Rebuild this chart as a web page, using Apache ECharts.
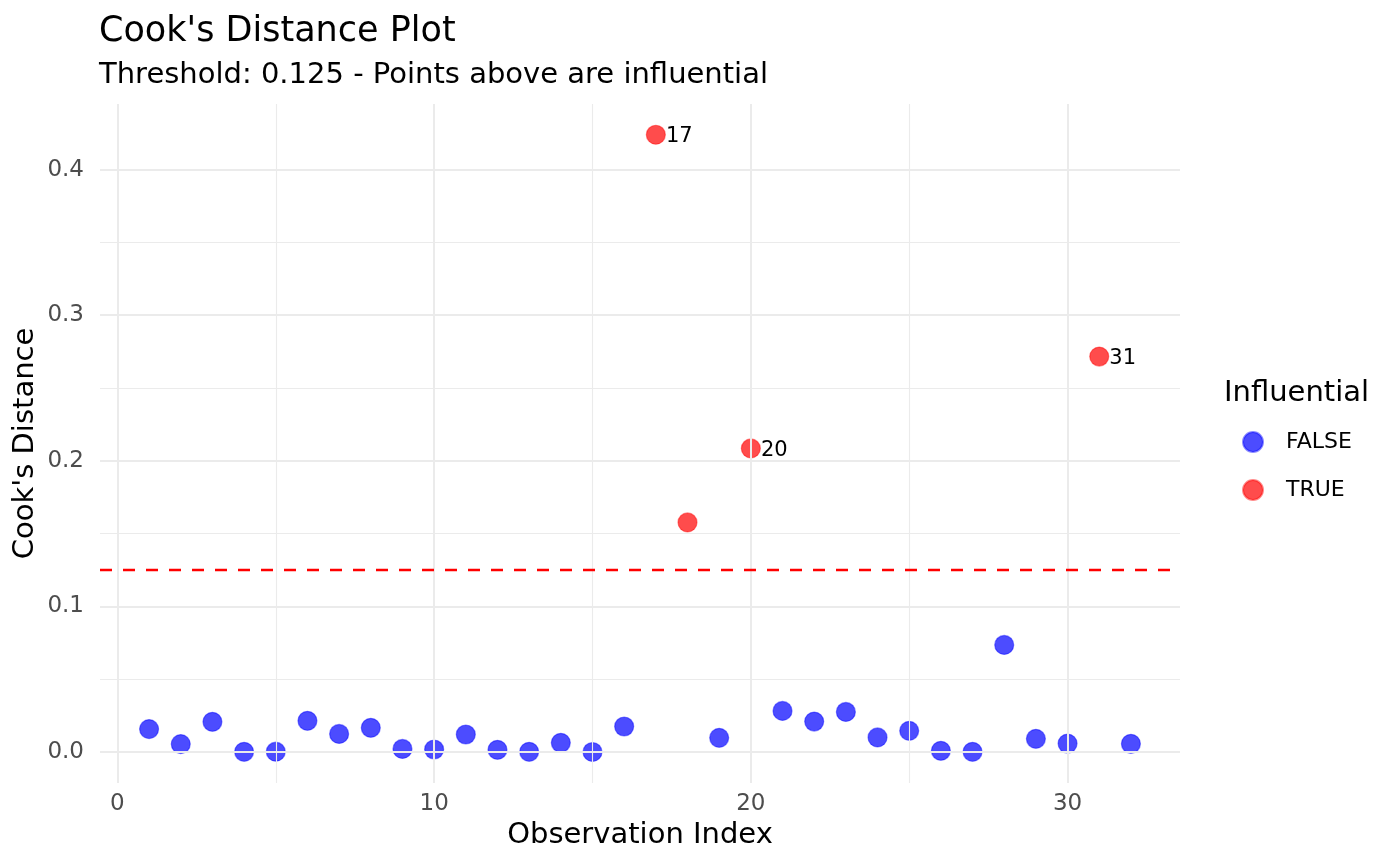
<!DOCTYPE html>
<html>
<head>
<meta charset="utf-8">
<title>Cook's Distance Plot</title>
<script src="https://cdn.jsdelivr.net/npm/echarts@6/dist/echarts.min.js"></script>
<style>
  html, body { margin: 0; padding: 0; background: #fff; }
  #chart { width: 1400px; height: 866px; }
</style>
</head>
<body>
<div id="chart"></div>
<script>
// observation index and Cook's distance
var obsIndex = [1, 2, 3, 4, 5, 6, 7, 8, 9, 10, 11, 12, 13, 14, 15, 16,
                17, 18, 19, 20, 21, 22, 23, 24, 25, 26, 27, 28, 29, 30, 31, 32];
var cooksD = [0.0158, 0.0055, 0.0208, 0.0002, 0.0003, 0.0215, 0.0125, 0.0167,
              0.0022, 0.0018, 0.0121, 0.0016, 0.0002, 0.0064, 0.0001, 0.0176,
              0.4239, 0.1577, 0.0098, 0.2085, 0.0283, 0.0210, 0.0276, 0.0101,
              0.0146, 0.0009, 0.0002, 0.0736, 0.0091, 0.0059, 0.2716, 0.0057];
var threshold = 0.125;
var labeledObs = [17, 20, 31];

var xTicks = [0, 10, 20, 30];
var xMinorTicks = [5, 15, 25];
var yTicks = [0, 0.1, 0.2, 0.3, 0.4];
var yMinorTicks = [0.05, 0.15, 0.25, 0.35];

var font = 'DejaVu Sans';
var gridColor = '#EBEBEB';

var falsePts = [], truePts = [];
obsIndex.forEach(function (idx, i) {
    var item = {
        value: [idx, cooksD[i]],
        label: { show: labeledObs.indexOf(idx) >= 0 }
    };
    if (cooksD[i] > threshold) truePts.push(item); else falsePts.push(item);
});

var gridLines = [];
xTicks.forEach(function (v) { gridLines.push({ xAxis: v, lineStyle: { width: 2 } }); });
xMinorTicks.forEach(function (v) { gridLines.push({ xAxis: v, lineStyle: { width: 1.1 } }); });
yTicks.forEach(function (v) { gridLines.push({ yAxis: v, lineStyle: { width: 2 } }); });
yMinorTicks.forEach(function (v) { gridLines.push({ yAxis: v, lineStyle: { width: 1.1 } }); });

var pointLabel = {
    position: 'right',
    distance: 0,
    offset: [0, 2],
    color: '#000',
    fontFamily: font,
    fontSize: 21,
    formatter: function (p) { return String(p.value[0]); }
};

var chart = echarts.init(document.getElementById('chart'));
chart.setOption({
    animation: false,
    backgroundColor: '#fff',
    textStyle: { fontFamily: font },
    title: [
        {
            text: "Cook's Distance Plot",
            left: 94, top: 9,
            textStyle: { fontFamily: font, fontSize: 35, fontWeight: 'normal', color: '#000' }
        },
        {
            text: 'Threshold: 0.125 - Points above are influential',
            left: 94, top: 56,
            textStyle: { fontFamily: font, fontSize: 29, fontWeight: 'normal', color: '#000' }
        },
        {
            text: 'Influential',
            left: 1219, top: 374,
            textStyle: { fontFamily: font, fontSize: 29, fontWeight: 'normal', color: '#000' }
        }
    ],
    legend: {
        data: ['FALSE', 'TRUE'],
        orient: 'vertical',
        left: 1237, top: 426,
        icon: 'circle',
        itemWidth: 20, itemHeight: 20,
        itemGap: 26,
        textStyle: { fontFamily: font, fontSize: 22, color: '#000', padding: [0, 0, 0, 18] }
    },
    grid: { left: 100, right: 220, top: 104, bottom: 83, containLabel: false },
    xAxis: {
        type: 'value',
        min: -0.55, max: 33.55,
        name: 'Observation Index',
        nameLocation: 'middle',
        nameGap: 36,
        nameTextStyle: { fontFamily: font, fontSize: 29, color: '#000' },
        axisLine: { show: false },
        axisTick: { show: false },
        splitLine: { show: false },
        axisLabel: {
            customValues: xTicks,
            margin: 10,
            fontFamily: font, fontSize: 23, color: '#4D4D4D'
        }
    },
    yAxis: {
        type: 'value',
        min: -0.0212, max: 0.445,
        name: "Cook's Distance",
        nameLocation: 'middle',
        nameGap: 60,
        nameMoveOverlap: false,
        nameTextStyle: { fontFamily: font, fontSize: 29, color: '#000' },
        axisLine: { show: false },
        axisTick: { show: false },
        splitLine: { show: false },
        axisLabel: {
            customValues: yTicks,
            margin: 16,
            fontFamily: font, fontSize: 23, color: '#4D4D4D',
            formatter: function (v) { return v.toFixed(1); }
        }
    },
    series: [
        {
            name: 'grid',
            type: 'scatter',
            data: [],
            silent: true,
            z: 1,
            markLine: {
                silent: true,
                precision: 3,
                symbol: ['none', 'none'],
                label: { show: false },
                lineStyle: { color: gridColor, type: 'solid' },
                data: gridLines
            }
        },
        {
            name: 'threshold',
            type: 'scatter',
            data: [],
            silent: true,
            z: 2,
            markLine: {
                silent: true,
                precision: 3,
                symbol: ['none', 'none'],
                label: { show: false },
                lineStyle: { color: '#FF0000', type: [12, 11], width: 2.3 },
                data: [{ yAxis: threshold }]
            }
        },
        {
            name: 'FALSE',
            type: 'scatter',
            symbol: 'circle',
            symbolSize: 19,
            z: 3,
            itemStyle: { color: 'rgba(0,0,255,0.7)', borderColor: 'rgba(0,0,255,0.45)', borderWidth: 1.2, opacity: 1 },
            label: pointLabel,
            data: falsePts
        },
        {
            name: 'TRUE',
            type: 'scatter',
            symbol: 'circle',
            symbolSize: 19,
            z: 3,
            itemStyle: { color: 'rgba(255,0,0,0.7)', borderColor: 'rgba(255,0,0,0.45)', borderWidth: 1.2, opacity: 1 },
            label: pointLabel,
            data: truePts
        }
    ]
});
</script>
</body>
</html>
